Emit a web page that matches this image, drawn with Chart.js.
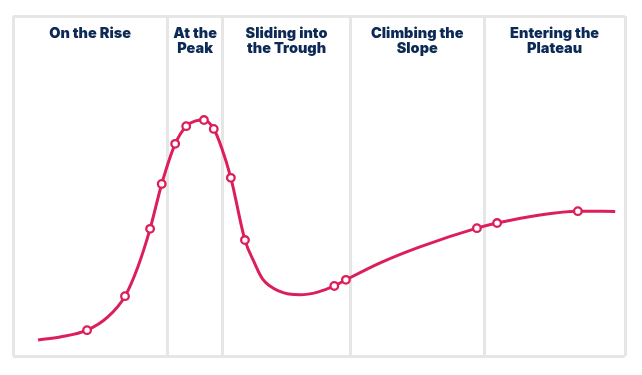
<!DOCTYPE html>
<html>
<head>
<meta charset="utf-8">
<script src="https://cdn.jsdelivr.net/npm/chart.js@4"></script>
<style>
  html, body { margin: 0; padding: 0; background: #fff; }
  #wrap { width: 642px; height: 375px; }
</style>
</head>
<body>
<div id="wrap"><canvas id="hype"></canvas></div>
<script>
// curve points (time 0-100, expectations 0-100)
const timeVals = [4.1, 7.7, 12.1, 15.5, 18.3, 20.4, 22.4, 24.3, 26.5, 28.3, 29.7, 31.2, 32.8, 34.1, 35.6, 37.9, 39.4, 40.8, 43.6, 46.9, 49.8, 52.5, 54.4, 60.0, 66.5, 75.8, 79.1, 86.1, 92.3, 98.4];
const expectVals = [4.7, 5.6, 7.6, 11.5, 17.6, 26.2, 37.4, 50.6, 62.4, 67.6, 69.1, 69.4, 66.8, 61.2, 52.4, 34.1, 27.6, 22.6, 19.0, 18.0, 18.8, 20.6, 22.4, 27.4, 32.1, 37.6, 39.1, 41.5, 42.6, 42.5];
// 1 = technology marker on the curve
const markers = [0, 0, 1, 0, 1, 0, 1, 1, 1, 1, 0, 1, 1, 0, 1, 1, 0, 0, 0, 0, 0, 1, 1, 0, 0, 1, 1, 0, 1, 0];

const phaseBounds = [0, 25.2, 34.3, 55.1, 77.0, 100];
const phaseNames = [
  ['On the Rise'],
  ['At the', 'Peak'],
  ['Sliding into', 'the Trough'],
  ['Climbing the', 'Slope'],
  ['Entering the', 'Plateau']
];

const pink = '#dc1f5a';
const frameGray = '#e6e6e6';

const phaseLabels = {
  id: 'phaseLabels',
  afterDraw(chart) {
    const ctx = chart.ctx;
    const xs = chart.scales.x;
    const top = chart.chartArea.top;
    ctx.save();
    ctx.fillStyle = '#0d2a57';
    ctx.font = '900 14.5px Inter, "Open Sans", sans-serif';
    ctx.textAlign = 'center';
    ctx.textBaseline = 'alphabetic';
    phaseNames.forEach((lines, i) => {
      const cx = (xs.getPixelForValue(phaseBounds[i]) + xs.getPixelForValue(phaseBounds[i + 1])) / 2;
      lines.forEach((ln, j) => {
        ctx.fillText(ln, cx, top + 22 + j * 15);
      });
    });
    ctx.restore();
  }
};

new Chart(document.getElementById('hype'), {
  type: 'line',
  data: {
    datasets: [{
      data: timeVals.map((t, i) => ({ x: t, y: expectVals[i] })),
      borderColor: pink,
      borderWidth: 3,
      cubicInterpolationMode: 'monotone',
      pointRadius: markers.map(m => m ? 3.8 : 0),
      pointBackgroundColor: '#fff',
      pointBorderColor: pink,
      pointBorderWidth: 2.3,
      fill: false
    }]
  },
  options: {
    responsive: true,
    maintainAspectRatio: false,
    animation: false,
    layout: { padding: { left: 13, right: 17, top: 16, bottom: 19 } },
    plugins: { legend: { display: false }, tooltip: { enabled: false } },
    scales: {
      x: {
        type: 'linear',
        min: 0,
        max: 100,
        afterBuildTicks: axis => { axis.ticks = phaseBounds.map(v => ({ value: v })); },
        ticks: { display: false },
        grid: { color: frameGray, lineWidth: 3, drawTicks: false },
        border: { display: false }
      },
      y: {
        min: 0,
        max: 100,
        afterBuildTicks: axis => { axis.ticks = [{ value: 0 }, { value: 100 }]; },
        ticks: { display: false },
        grid: { color: frameGray, lineWidth: 3, drawTicks: false },
        border: { display: false }
      }
    }
  },
  plugins: [phaseLabels]
});
</script>
</body>
</html>
